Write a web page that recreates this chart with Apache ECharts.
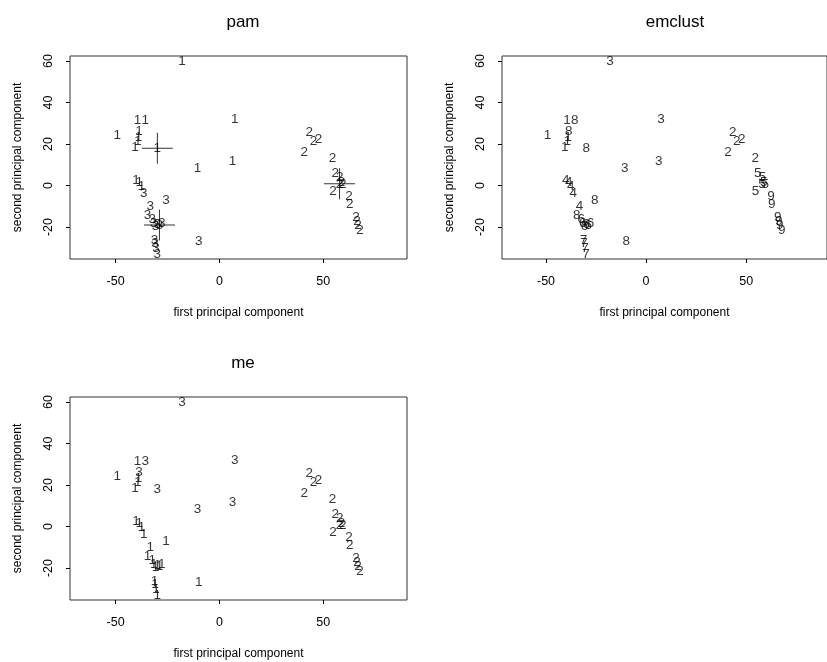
<!DOCTYPE html>
<html>
<head>
<meta charset="utf-8">
<script src="https://cdn.jsdelivr.net/npm/echarts@6/dist/echarts.min.js"></script>
<style>
html,body{margin:0;padding:0;background:#fff;}
#chart{width:827px;height:662px;}
</style>
</head>
<body>
<div id="chart"></div>
<script>
// principal component coordinates (same points in every panel)
const pcX = [-18, -39.5, -35.7, 7.4, -49.2, -38.7, -39, -39.4, -40.7, -29.9, 6.3, -10.6,
  -40.2, -38.6, -37.6, -36.4, -25.7, -33.3, -34.6, -32.4, -31.6, -30.8, -28.9, -29.8, -27.8,
  -31.3, -31.0, -30.5, -30.0, -9.9,
  43.3, 45.3, 47.8, 40.9, 54.5, 55.8, 58.0, 58.8, 57.9, 59.5, 54.7, 62.4, 62.8, 65.8, 66.3, 66.8, 67.8];
const pcY = [60, 31.4, 31.4, 32, 24, 26, 23.4, 21.3, 18.4, 18, 11.9, 8.4,
  2.3, 1.5, -0.6, -3.5, -7.2, -10.1, -14.4, -16.4, -18.4, -19.6, -19.0, -18.8, -18.4,
  -26.2, -27.8, -30.2, -33.0, -26.8,
  25.8, 21.3, 22.1, 15.9, 12.9, 6.0, 3.8, 1.5, 0.8, 0.6, -2.9, -5.4, -8.8, -15.5, -17.2, -19.0, -21.4];
const pamLabels = ['1','1','1','1','1','1','1','1','1','1','1','1',
  '1','1','1','3','3','3','3','3','3','3','3','3','3',
  '3','3','3','3','3',
  '2','2','2','2','2','2','2','2','2','2','2','2','2','2','2','2','2'];
const emclustLabels = ['3','1','8','3','1','8','1','1','1','8','3','3',
  '4','4','4','4','8','4','8','6','6','6','6','6','6',
  '7','7','7','7','8',
  '2','2','2','2','2','5','5','5','5','5','5','9','9','9','9','9','9'];
const meLabels = ['3','1','3','3','1','3','1','1','1','3','3','3',
  '1','1','1','1','1','1','1','1','1','1','1','1','1',
  '1','1','1','1','1',
  '2','2','2','2','2','2','2','2','2','2','2','2','2','2','2','2','2'];
// pam medoids
const medoidX = [-29.9, -28.9, 57.9];
const medoidY = [18, -19.0, 0.8];
// tick labels
const xTicks = [-50, 0, 50];
const yTicks = [-20, 0, 20, 40, 60];
const panelTitles = ['pam', 'emclust', 'me'];

const FONT = 'Liberation Sans, Arial, Helvetica, sans-serif';
const chart = echarts.init(document.getElementById('chart'), null, {renderer: 'canvas'});

const grids = [
  {left: 70, top: 56, width: 337, height: 203},
  {left: 502, top: 56, width: 337, height: 203},
  {left: 70, top: 397, width: 337, height: 203}
];
const titleCenters = [[238, 9], [670, 9], [238, 350]];

function xAxisFor(i) {
  return {
    type: 'value', gridIndex: i, min: -72, max: 90.4, position: 'bottom',
    name: 'first principal component', nameLocation: 'middle', nameGap: 48,
    nameTextStyle: {fontFamily: FONT, fontSize: 12, color: '#000'},
    splitLine: {show: false},
    axisLine: {show: false, onZero: false},
    axisTick: {show: true, customValues: xTicks, length: 4, inside: false, lineStyle: {color: '#000'}},
    axisLabel: {customValues: xTicks, margin: 16, fontFamily: FONT, fontSize: 12.5, color: '#000'}
  };
}
function yAxisFor(i) {
  return {
    type: 'value', gridIndex: i, min: -35.4, max: 62.4, position: 'left',
    name: 'second principal component', nameLocation: 'middle', nameGap: 46,
    nameTextStyle: {fontFamily: FONT, fontSize: 12, color: '#000'},
    splitLine: {show: false},
    axisLine: {show: false, onZero: false},
    axisTick: {show: true, customValues: yTicks, length: 4, inside: false, lineStyle: {color: '#000'}},
    axisLabel: {customValues: yTicks, rotate: 90, margin: 15, fontFamily: FONT, fontSize: 12.5, color: '#000'}
  };
}
function labelSeries(i, labels) {
  return {
    type: 'scatter', xAxisIndex: i, yAxisIndex: i,
    symbolSize: 1, itemStyle: {color: 'rgba(0,0,0,0)'},
    silent: true, animation: false,
    label: {show: true, position: 'inside', formatter: p => p.value[2],
      fontFamily: FONT, fontSize: 13.5, color: '#000'},
    labelLayout: {hideOverlap: false},
    data: pcX.map((x, k) => [x, pcY[k], labels[k]])
  };
}

const option = {
  backgroundColor: '#fff',
  animation: false,
  title: panelTitles.map((t, i) => ({
    text: t, left: titleCenters[i][0], top: titleCenters[i][1], textAlign: 'center',
    textStyle: {fontFamily: FONT, fontSize: 17, fontWeight: 'normal', color: '#000'}
  })),
  grid: grids.map(g => Object.assign({show: true, borderColor: '#333', borderWidth: 1, backgroundColor: 'transparent', containLabel: false}, g)),
  xAxis: [0, 1, 2].map(xAxisFor),
  yAxis: [0, 1, 2].map(yAxisFor),
  series: [
    labelSeries(0, pamLabels),
    labelSeries(1, emclustLabels),
    labelSeries(2, meLabels),
    {
      type: 'scatter', xAxisIndex: 0, yAxisIndex: 0, silent: true,
      symbol: 'path://M15,0h1v31h-1z M0,15h31v1h-31z', symbolSize: 31,
      itemStyle: {color: '#000'},
      data: medoidX.map((x, k) => [x, medoidY[k]])
    }
  ]
};
chart.setOption(option);
</script>
</body>
</html>
